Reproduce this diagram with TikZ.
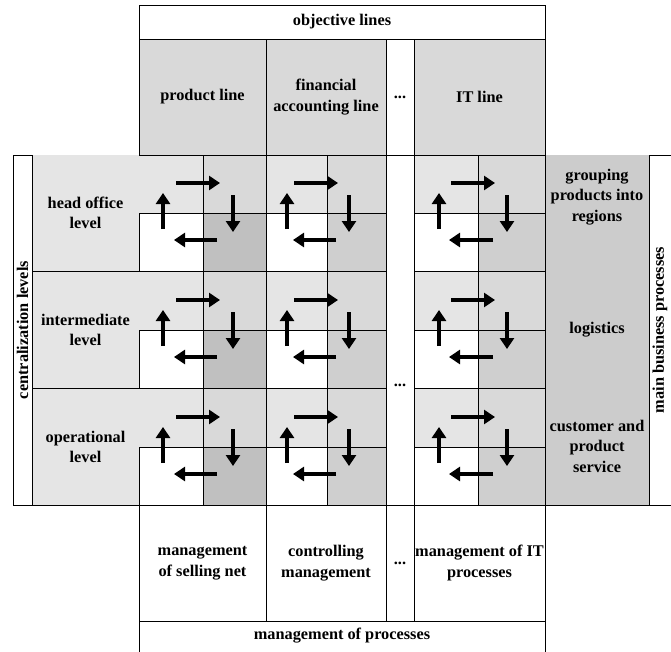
\documentclass[tikz,border=0pt]{standalone}
\usepackage{fontspec}
\setmainfont{Liberation Serif}
\usetikzlibrary{arrows.meta}
\definecolor{cLight}{RGB}{229,229,229}
\definecolor{cMid}{RGB}{217,217,217}
\definecolor{cDarkA}{RGB}{192,192,192}
\definecolor{cDarkB}{RGB}{207,207,207}
\definecolor{cHead}{RGB}{217,217,217}
\definecolor{cRight}{RGB}{204,204,204}
\begin{document}
\begin{tikzpicture}[x=1pt,y=-1pt,
  txt/.style={font=\fontsize{16.3}{20.5}\selectfont\bfseries, align=center, inner sep=0pt},
  border/.style={line width=1pt, black},
  cyc/.style={line width=4pt, -{Triangle[length=11pt,width=14pt]}}]
\useasboundingbox (0,0) rectangle (671,651);
\clip (0,0) rectangle (671,651);
% background fills
\fill[cLight] (32,155) rectangle (139,505);
\fill[cRight] (545,155) rectangle (649,505);
% header fills
\fill[cHead] (139,39) rectangle (386,155);
\fill[cHead] (414,39) rectangle (545,155);
% grid cells
\foreach \xa/\xs/\xb/\dk/\ux/\dx/\ra/\rb/\la/\lb in
  {139/203/266/cDarkA/163/233/176/220/217/174,
   266/327/386/cDarkB/287/349/294/338/336/293,
   414/478/545/cDarkB/439/507/451/495/493/449}{
  \foreach \ya/\ym/\yb in {155/213/271, 271/330/388, 388/447/505}{
    \fill[cLight] (\xa,\ya) rectangle (\xs,\ym);
    \fill[cMid] (\xs,\ya) rectangle (\xb,\ym);
    \fill[white] (\xa,\ym) rectangle (\xs,\yb);
    \fill[\dk] (\xs,\ym) rectangle (\xb,\yb);
    \draw[border] (\xa,\ym) -- (\xb,\ym);
    \draw[border] (\xs,\ya) -- (\xs,\yb);
    \draw[border] (\xa,\ym) -- (\xa,\yb);
    \draw[cyc] (\ra,{\ym-30}) -- (\rb,{\ym-30});
    \draw[cyc] (\dx,{\ym-18}) -- (\dx,{\ym+19});
    \draw[cyc] (\la,{\ym+27}) -- (\lb,{\ym+27});
    \draw[cyc] (\ux,{\ym+16}) -- (\ux,{\ym-20});
  }
}
% lines
\draw[border] (139,5) -- (545,5);
\draw[border] (139,39) -- (545,39);
\draw[border] (139,155) -- (545,155);
\draw[border] (13,155) -- (32,155);
\draw[border] (649,155) -- (680,155);
\draw[border] (32,271) -- (386,271) (414,271) -- (545,271);
\draw[border] (32,388) -- (386,388) (414,388) -- (545,388);
\draw[border] (13,505) -- (680,505);
\draw[border] (139,621) -- (545,621);
\draw[border] (139,5) -- (139,155);
\draw[border] (139,505) -- (139,660);
\draw[border] (266,39) -- (266,621);
\draw[border] (386,39) -- (386,621);
\draw[border] (414,39) -- (414,621);
\draw[border] (545,5) -- (545,660);
\draw[border] (13,155) -- (13,505);
\draw[border] (32,155) -- (32,505);
\draw[border] (649,155) -- (649,505);
% texts
\node[txt] (obj) at (342,22) {objective lines};
\node[txt] (pl) at (202.5,97) {product line};
\node[txt] (fal) at (326,97) {financial\\accounting line};
\node[txt] (dh) at (400,97) {...};
\node[txt] (itl) at (479.5,97) {IT line};
\node[txt] (lv1) at (85.5,213) {head office\\level};
\node[txt] (lv2) at (85.5,330) {intermediate\\level};
\node[txt] (lv3) at (85.5,447) {operational\\level};
\node[txt] (dm) at (400,385) {...};
\node[txt] (bp1) at (597,197) {grouping\\products into\\regions};
\node[txt] (bp2) at (597,330) {logistics};
\node[txt] (bp3) at (597,446) {customer and\\product\\service};
\node[txt, rotate=90] (cl) at (22.5,330) {centralization levels};
\node[txt, rotate=90] (mbp) at (660,330) {main business processes};
\node[txt] (mp1) at (202.5,563) {management\\of selling net};
\node[txt] (mp2) at (326,563) {controlling\\management};
\node[txt] (db) at (400,563) {...};
\node[txt] (mp3) at (479.5,563) {management of IT\\processes};
\node[txt] (mp) at (342,636) {management of processes};
\end{tikzpicture}
\end{document}
